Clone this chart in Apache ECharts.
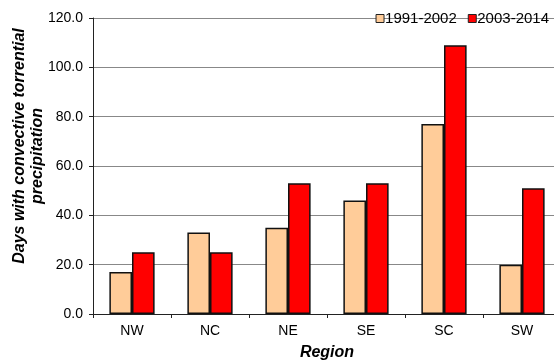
<!DOCTYPE html>
<html><head><meta charset="utf-8">
<script src="https://cdn.jsdelivr.net/npm/echarts@6/dist/echarts.min.js"></script>
<style>html,body{margin:0;padding:0;background:#fff}#c{width:554px;height:360px}</style>
</head><body><div id="c"></div>
<script>
const categories = ['NW','NC','NE','SE','SC','SW'];
const seriesNames = ['1991-2002','2003-2014'];
const values1991 = [17, 33, 35, 46, 77, 20];
const values2003 = [25, 25, 53, 53, 109, 51];
const yTicks = [0, 20, 40, 60, 80, 100, 120];

const chart = echarts.init(document.getElementById('c'));
const font = 'Liberation Sans, Arial, sans-serif';
chart.setOption({
  animation: false,
  backgroundColor: '#fff',
  textStyle: {fontFamily: font},
  legend: {
    top: 6, right: 0, itemWidth: 8, itemHeight: 8, itemGap: 11,
    icon: 'rect',
    itemStyle: {borderColor: '#222', borderWidth: 1},
    textStyle: {fontSize: 15, color: '#000', fontFamily: font, padding: [0,0,0,-4]},
    data: seriesNames
  },
  grid: {left: 93, top: 18, width: 468, height: 296, containLabel: false, outerBoundsMode: 'none'},
  xAxis: {
    type: 'category', data: categories,
    axisLine: {lineStyle: {color: '#222', width: 1}},
    axisTick: {show: true, length: 4, lineStyle: {color: '#222'}},
    axisLabel: {color: '#000', fontSize: 14, margin: 10, fontFamily: font},
    name: 'Region', nameLocation: 'middle', nameGap: 31,
    nameTextStyle: {fontSize: 16, fontWeight: 'bold', fontStyle: 'italic', color: '#000', fontFamily: font}
  },
  yAxis: {
    type: 'value', min: yTicks[0], max: yTicks[yTicks.length-1], interval: 20,
    axisLine: {show: true, lineStyle: {color: '#222'}},
    axisTick: {show: true, length: 4, lineStyle: {color: '#222'}},
    splitLine: {lineStyle: {color: '#888', width: 1}},
    axisLabel: {color: '#000', fontSize: 14, margin: 10, fontFamily: font, formatter: v => v.toFixed(1)}
  },
  graphic: [
    {type: 'text', x: 20, y: 146, rotation: Math.PI/2,
     style: {text: 'Days with convective torrential', font: 'italic bold 16px Liberation Sans, Arial', fill: '#000', align: 'center', verticalAlign: 'middle'}},
    {type: 'text', x: 38, y: 156, rotation: Math.PI/2,
     style: {text: 'precipitation', font: 'italic bold 16px Liberation Sans, Arial', fill: '#000', align: 'center', verticalAlign: 'middle'}}
  ],
  series: [
    {name: seriesNames[0], type: 'bar', data: values1991, barGap: '0%', barCategoryGap: '42%',
     itemStyle: {color: '#ffcc99', borderColor: '#111', borderWidth: 1.5}},
    {name: seriesNames[1], type: 'bar', data: values2003,
     itemStyle: {color: '#ff0000', borderColor: '#111', borderWidth: 1.5}}
  ]
});
</script></body></html>
